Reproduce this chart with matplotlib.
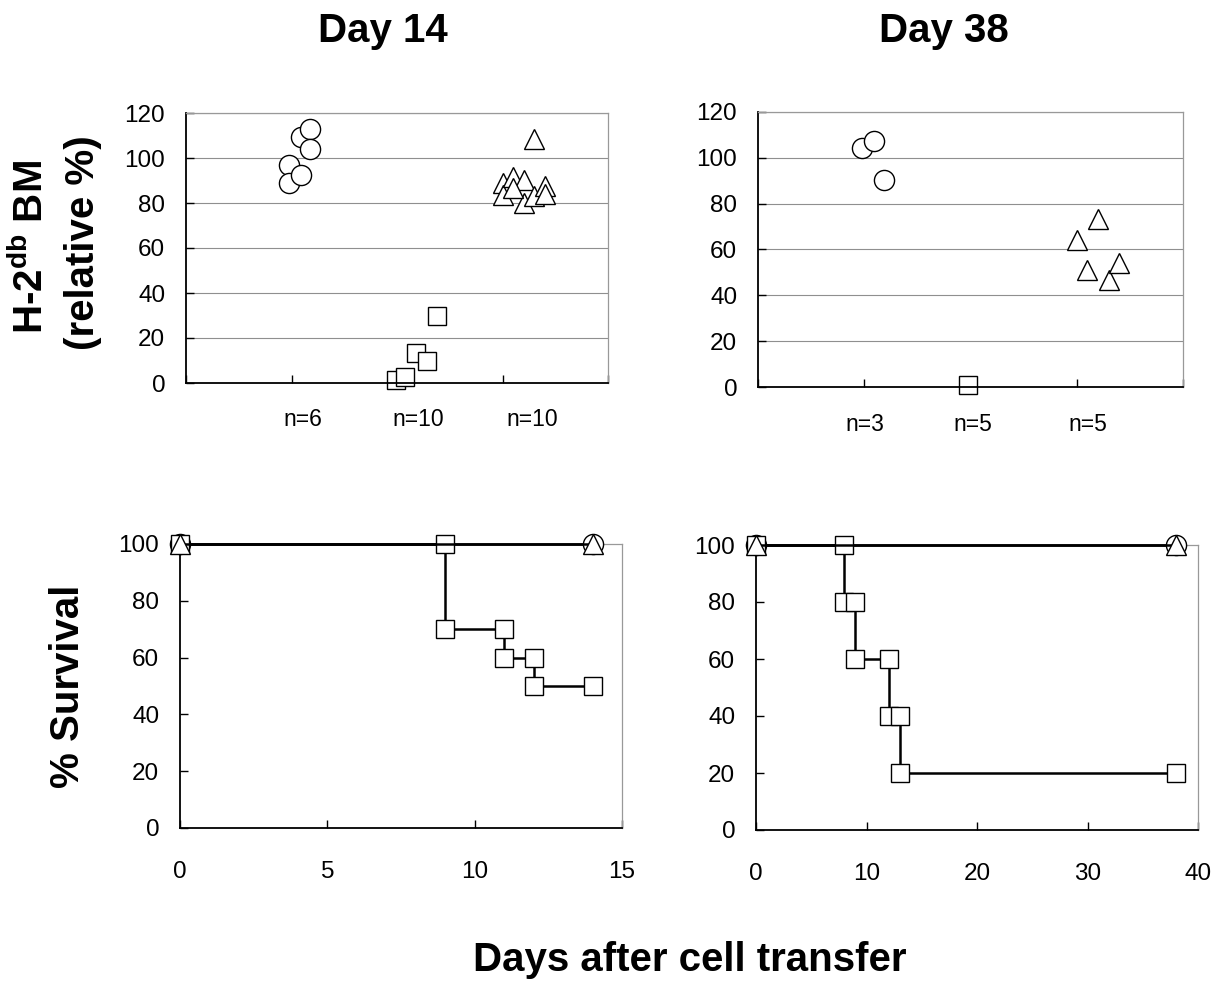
import numpy as np
import matplotlib
matplotlib.use("Agg")
import matplotlib.pyplot as plt

plt.rcParams['font.family'] = ['Liberation Sans', 'DejaVu Sans']
plt.rcParams['mathtext.fontset'] = 'custom'
plt.rcParams['mathtext.rm'] = 'Liberation Sans'
plt.rcParams['mathtext.bf'] = 'Liberation Sans:bold'

# ---- top panels: H-2db BM (relative %) per mouse ----
# day 14
d14_circle_x = [0.98, 0.98, 1.09, 1.09, 1.18, 1.18]
d14_circle_y = [96.7, 88.9, 109.3, 92.3, 112.7, 103.9]
d14_square_x = [1.99, 2.08, 2.18, 2.28, 2.38]
d14_square_y = [1.2, 2.7, 13.3, 9.8, 29.6]
d14_tri_x = [3.30, 3.00, 3.00, 3.10, 3.20, 3.20, 3.30, 3.40, 3.40, 3.10]
d14_tri_y = [108.6, 89.0, 83.5, 91.5, 90.4, 80.0, 83.0, 87.5, 83.8, 86.5]
d14_n_labels = ['n=6', 'n=10', 'n=10']
d14_n_x = [1.11, 2.2, 3.28]

# day 38
d38_circle_x = [0.98, 1.09, 1.19]
d38_circle_y = [104.3, 107.3, 90.5]
d38_square_x = [1.98]
d38_square_y = [1.0]
d38_tri_x = [3.0, 3.2, 3.1, 3.3, 3.4]
d38_tri_y = [64.0, 73.3, 50.9, 46.5, 54.1]
d38_n_labels = ['n=3', 'n=5', 'n=5']
d38_n_x = [1.01, 2.02, 3.1]

# ---- bottom panels: % survival ----
surv14_ctrl_x = [0, 14]
surv14_ctrl_y = [100, 100]
surv14_sq_x = [0, 9, 9, 11, 11, 12, 12, 14]
surv14_sq_y = [100, 100, 70, 70, 60, 60, 50, 50]

surv38_ctrl_x = [0, 38]
surv38_ctrl_y = [100, 100]
surv38_sq_x = [0, 8, 8, 9, 9, 12, 12, 13, 13, 38]
surv38_sq_y = [100, 100, 80, 80, 60, 60, 40, 40, 20, 20]

W, H = 1224, 983
fig = plt.figure(figsize=(W / 100, H / 100), dpi=100)


def px_axes(x0, y0, x1, y1):
    # pixel box (left, top, right, bottom) -> figure fraction
    return fig.add_axes([x0 / W, 1 - y1 / H, (x1 - x0) / W, (y1 - y0) / H])


def style_axes(ax):
    for side in ['top', 'right']:
        ax.spines[side].set_color('#999999')
        ax.spines[side].set_linewidth(0.9)
    for side in ['left', 'bottom']:
        ax.spines[side].set_color('black')
        ax.spines[side].set_linewidth(1.3)
    ax.tick_params(direction='in', length=5.5, width=1.0, labelsize=17.5, pad=15)


grey = '#8f8f8f'
mk = dict(markerfacecolor='white', markeredgecolor='black', markeredgewidth=1.0,
          linestyle='none', clip_on=False)


def top_panel(ax, cx, cy, sx, sy, tx, ty, nlab, nx):
    style_axes(ax)
    ax.set_xlim(0, 4)
    ax.set_ylim(0, 120)
    ax.set_xticks([0, 1, 2, 3, 4])
    ax.set_xticklabels([])
    ax.set_yticks(np.arange(0, 121, 20))
    ax.yaxis.grid(True, color=grey, linewidth=0.8)
    ax.set_axisbelow(True)
    ax.plot(cx, cy, marker='o', markersize=14.5, **mk)
    ax.plot(sx, sy, marker='s', markersize=12.5, **mk)
    ax.plot(tx, ty, marker='^', markersize=14.5, **mk)
    for lab, x in zip(nlab, nx):
        ax.text(x, -0.135, lab, transform=ax.get_xaxis_transform(),
                ha='center', va='center', fontsize=16.5)


def bottom_panel(ax, xmax, xstep, cx, cy, sx, sy):
    style_axes(ax)
    ax.tick_params(axis='x', pad=24)
    ax.set_xlim(0, xmax)
    ax.set_ylim(0, 100)
    ax.set_xticks(np.arange(0, xmax + 1, xstep))
    ax.set_yticks(np.arange(0, 101, 20))
    line = dict(color='black', linewidth=1.8, markerfacecolor='white',
                markeredgecolor='black', markeredgewidth=1.0, clip_on=False)
    ax.plot(cx, cy, marker='o', markersize=14.5, zorder=3, **line)
    ax.plot(sx, sy, marker='s', markersize=12.5, zorder=4, **line)
    ax.plot(cx, cy, marker='^', markersize=14.5, zorder=5, **line)


ax1 = px_axes(186, 113, 608, 383)
top_panel(ax1, d14_circle_x, d14_circle_y, d14_square_x, d14_square_y,
          d14_tri_x, d14_tri_y, d14_n_labels, d14_n_x)

ax2 = px_axes(758, 112, 1183, 387)
top_panel(ax2, d38_circle_x, d38_circle_y, d38_square_x, d38_square_y,
          d38_tri_x, d38_tri_y, d38_n_labels, d38_n_x)

ax3 = px_axes(180, 544, 622, 828)
bottom_panel(ax3, 15, 5, surv14_ctrl_x, surv14_ctrl_y, surv14_sq_x, surv14_sq_y)

ax4 = px_axes(756, 545, 1198, 830)
bottom_panel(ax4, 40, 10, surv38_ctrl_x, surv38_ctrl_y, surv38_sq_x, surv38_sq_y)

# titles and axis labels
big = dict(fontsize=29, fontweight='bold')
fig.text(383 / W, 1 - 42 / H, 'Day 14', ha='center', va='baseline', **big)
fig.text(944 / W, 1 - 42 / H, 'Day 38', ha='center', va='baseline', **big)
fig.text(690 / W, 1 - 971 / H, 'Days after cell transfer', ha='center',
         va='baseline', **big)
fig.text(68 / W, 1 - 686 / H, '% Survival', rotation=90, ha='center',
         va='center', **big)
fig.text(31 / W, 1 - 247 / H, r'H-2$^{\mathbf{db}}$ BM', rotation=90,
         ha='center', va='center', **big)
fig.text(83 / W, 1 - 243 / H, '(relative %)', rotation=90, ha='center',
         va='center', **big)

fig.savefig('out.png', dpi=100)
